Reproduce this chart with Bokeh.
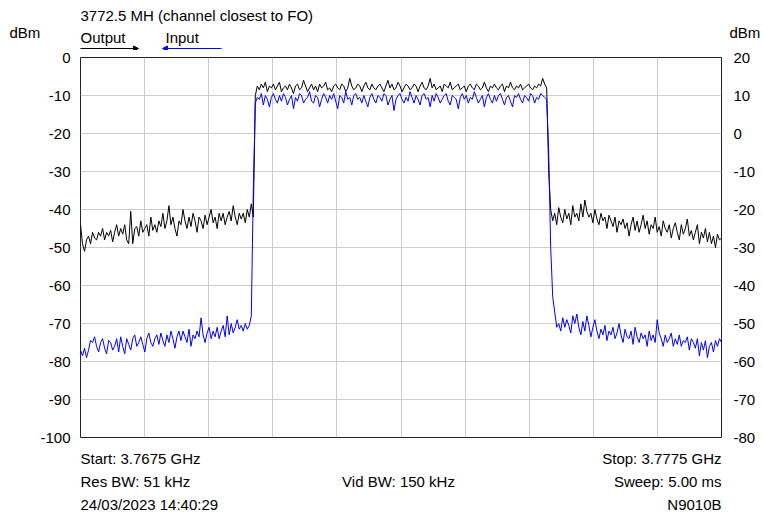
import numpy as np
from bokeh.plotting import figure
from bokeh.layouts import column
from bokeh.models import (Range1d, LinearAxis, FixedTicker, Arrow, NormalHead,
                          PrintfTickFormatter)
from bokeh.core.properties import value
from bokeh.embed import file_html
from bokeh.resources import INLINE

# ---------------- data ----------------
f_start_ghz = 3.7675
f_stop_ghz = 3.7775
n_points = 320

# Output trace (black), read on the right axis (dBm)
out_low = [-24, -29, -31, -28, -27, -29, -26, -27.5, -28, -26,
           -27, -25, -28, -26, -27, -25.5, -28.5, -26, -24, -27,
           -25, -26.5, -24, -28, -29, -20.5, -29, -25, -24.5, -27,
           -23, -26, -25, -24, -27, -22, -25.5, -24, -26, -23,
           -24.5, -21, -25, -23, -19, -24, -22, -25, -27, -23,
           -24, -20, -23, -25, -22, -24.5, -21, -23, -26, -22,
           -23, -25, -21.5, -24, -22, -20, -23.5, -22, -25, -21,
           -23, -21, -24, -22, -20.5, -23, -19, -22, -24, -21,
           -22.5, -21, -23.5, -20, -22, -18.5, -22]
out_band = [10, 12.5, 11.5, 13, 12, 13.5, 11, 12.5, 12, 13,
            11.5, 12.5, 13.5, 11, 12, 12.5, 11.5, 13, 12, 10.5,
            12.5, 13, 11.5, 12, 14, 12.5, 11, 12, 13, 11.5,
            12.5, 11, 13, 12, 12.5, 13.5, 11.5, 12, 11, 12.5,
            13, 12, 11.5, 13, 12.5, 11, 12, 14.5, 12.5, 11.5,
            12, 13, 12.5, 11, 12.5, 13.5, 12, 11.5, 13, 12,
            11.5, 12.5, 13, 12, 11, 12.5, 14, 12, 13, 11.5,
            12, 13.5, 12.5, 11, 12, 13, 12.5, 11.5, 12, 13,
            12.5, 11, 12.5, 13.5, 12, 11.5, 12.5, 14.5, 12, 13,
            11.5, 12, 12.5, 11, 13, 12.5, 12, 13.5, 11.5, 12,
            12.5, 13, 11.5, 12, 12.5, 11, 12.5, 13, 12, 11.5,
            13, 12.5, 11.5, 12, 13.5, 12, 11, 12.5, 12, 13,
            12, 11.5, 12.5, 13, 11, 12.5, 12, 13.5, 12, 11.5,
            12.5, 12, 13, 11.5, 12, 12.5, 13, 12, 11.5, 12.5,
            12, 13, 12.5, 14.5, 13, 12, -10]
out_high = [-20, -23, -21, -24, -19.5, -22, -23.5, -20, -22.5, -21,
            -24, -19, -22, -21, -23, -18.5, -22, -17.5, -20.5, -22,
            -21, -23.5, -20, -22.5, -24, -21, -23, -22, -25, -21.5,
            -23, -24.5, -22, -26, -23, -24, -22.5, -25, -23.5, -27,
            -24, -22, -25.5, -23, -26, -24, -21.5, -25, -23, -26.5,
            -24, -25, -22, -26, -24.5, -27, -23, -25, -26, -24,
            -27.5, -25, -23.5, -26, -28, -24, -26.5, -25, -22.5, -27,
            -25.5, -28, -26, -24, -29, -26, -27.5, -25, -28.5, -26,
            -29, -27, -30, -26.5, -28, -27.5]

# Input trace (blue), read on the left axis (dBm)
in_low = [-77, -78.5, -76.5, -79, -77, -74.5, -75, -73.5, -76, -77.5,
          -75, -74, -76.5, -78, -74.5, -75, -77, -76, -74, -77.5,
          -73.5, -76, -78, -74, -75.5, -77, -74, -73, -76, -75,
          -73.5, -75.5, -77.5, -74, -72.5, -75, -76, -74, -73, -75.5,
          -72.5, -74.5, -76, -73, -75, -72, -74, -76.5, -73.5, -72,
          -74.5, -72, -73.5, -75, -71.5, -76, -73, -74, -72, -73.5,
          -68.5, -73, -75, -72.5, -71, -74, -72, -73.5, -71, -74,
          -72, -70.5, -73.5, -68, -73, -70, -72.5, -71, -69, -71.5,
          -70.5, -72, -70, -71.5, -70.5, -68, -35]
in_band = [-12, -10.5, -11, -9.5, -12.5, -10, -11, -13, -10.5, -9.5,
           -11, -12, -10, -11.5, -9.5, -10.5, -12.5, -11, -10, -13.5,
           -10.5, -11.5, -9.5, -10, -12, -11, -10.5, -9, -11.5, -12,
           -10, -10.5, -13, -11, -9.5, -10.5, -12, -10, -11, -9.5,
           -11.5, -13.5, -10, -10.5, -12, -9, -11, -10.5, -12.5, -10,
           -9.5, -11, -10.5, -12, -10, -11.5, -13, -10.5, -9.5, -11,
           -12, -10, -10.5, -11.5, -9.5, -10, -12.5, -11, -10, -14,
           -11, -10, -9.5, -11, -12, -10.5, -11.5, -9, -10.5, -12,
           -10, -11, -12.5, -10, -9.5, -11, -10.5, -13, -10, -11.5,
           -9.5, -10.5, -12, -11, -10, -9.5, -11.5, -12.5, -10, -10.5,
           -11, -13.5, -10.5, -9.5, -11, -10, -12, -10.5, -11, -9,
           -10.5, -12, -11, -10, -13, -10.5, -9.5, -11, -12, -10,
           -11.5, -10, -9.5, -11, -12.5, -10.5, -10, -11.5, -13, -10,
           -10.5, -9.5, -11, -12, -10, -10.5, -11.5, -9.5, -10, -12,
           -10.5, -11, -9.5, -10, -10.5, -11]
in_high = [-25, -50, -63,
           -67, -71, -70, -72, -68.5, -71, -69, -70.5, -72.5, -68,
           -70, -67.5, -71, -73, -69.5, -72, -68, -70.5, -73.5, -71,
           -69, -72, -74, -71.5, -73, -70.5, -74.5, -72, -73, -71,
           -74, -72.5, -70, -73, -75, -71.5, -73.5, -74, -72, -75.5,
           -71, -73.5, -75, -72.5, -74, -73, -76, -72, -74.5, -73,
           -75, -69, -72.5, -74, -76, -73, -75, -74, -72.5, -76,
           -74, -75.5, -73, -76, -74.5, -75, -73.5, -77, -74, -75,
           -76.5, -74, -78.5, -75, -77, -74.5, -79, -76, -75, -77.5,
           -74.5, -76, -74, -75]

left_ticks = list(range(-100, 1, 10))
right_ticks = list(range(-80, 21, 10))

title_text = "3772.5 MH (channel closest to FO)"
unit_text = "dBm"
legend_texts = ["Output", "Input"]
info_left = ["Start: 3.7675 GHz", "Res BW: 51 kHz", "24/03/2023 14:40:29"]
info_mid = "Vid BW: 150 kHz"
info_right = ["Stop: 3.7775 GHz", "Sweep: 5.00 ms", "N9010B"]

# ---------------- layout ----------------
FONT = "Liberation Sans"
FS = "15px"
W = 763
HEAD_H = 50                      # header strip (page y 0..50)
FOOT_H = 68                      # footer strip (page y 445..513)
MAIN_H = 513 - HEAD_H - FOOT_H   # main chart (page y 50..445)
FL, FR, FT, FB = 80, 721, 57, 437   # plot frame edges in page pixels


def text_strip(height, top):
    """A figure with no axes whose data coordinates are page pixels (y downwards)."""
    s = figure(width=W, height=height, output_backend="svg", toolbar_location=None,
               x_range=Range1d(0, W), y_range=Range1d(top + height, top),
               x_axis_location=None, y_axis_location=None,
               min_border=0, min_border_left=0, min_border_right=0,
               min_border_top=0, min_border_bottom=0)
    s.frame_align = False
    s.outline_line_color = None
    s.xgrid.visible = False
    s.ygrid.visible = False
    s.background_fill_color = "white"
    s.border_fill_color = "white"
    return s


def put(fig, text, x, y, align="left"):
    fig.text(x=[x], y=[y], text=[text], text_font=value(FONT), text_font_size=value(FS),
             text_color="black", text_align=align, text_baseline="middle")


# header
head = text_strip(HEAD_H, 0)
put(head, title_text, 80, 15)
put(head, unit_text, 9, 32)
put(head, unit_text, 729, 32)
put(head, legend_texts[0], 80, 37)
put(head, legend_texts[1], 165, 37)
head.add_layout(Arrow(x_start=80, y_start=48, x_end=138, y_end=48, line_color="black",
                      line_width=1,
                      end=NormalHead(size=5, line_color="black", fill_color="black", line_width=1)))
head.add_layout(Arrow(x_start=221, y_start=48, x_end=162, y_end=48, line_color="#0000ff",
                      line_width=1,
                      end=NormalHead(size=5, line_color="#0000ff", fill_color="#0000ff",
                                     line_width=1)))

# main chart
freq = np.linspace(f_start_ghz, f_stop_ghz, n_points)
out_trace = np.array(out_low + out_band + out_high, dtype=float)
in_trace = np.array(in_low + in_band + in_high, dtype=float)

p = figure(width=W, height=MAIN_H, output_backend="svg", toolbar_location=None,
           x_range=Range1d(f_start_ghz, f_stop_ghz), y_range=Range1d(-100, 0),
           x_axis_location=None, y_axis_location="left",
           min_border_left=FL, min_border_right=W - FR, min_border_top=FT - HEAD_H,
           min_border_bottom=(HEAD_H + MAIN_H) - FB)
p.frame_align = False
p.extra_y_ranges = {"right": Range1d(-80, 20)}
p.background_fill_color = "white"
p.border_fill_color = "white"
p.outline_line_color = "#222222"
p.outline_line_width = 1

ax = p.yaxis[0]
ax.ticker = FixedTicker(ticks=left_ticks)
rax = LinearAxis(y_range_name="right", ticker=FixedTicker(ticks=right_ticks))
p.add_layout(rax, "right")
for a in (ax, rax):
    a.formatter = PrintfTickFormatter(format="%d")
    a.axis_line_color = None
    a.major_tick_line_color = None
    a.minor_tick_line_color = None
    a.major_tick_out = 0
    a.major_tick_in = 0
    a.major_label_text_font = FONT
    a.major_label_text_font_size = FS
    a.major_label_text_color = "black"
ax.major_label_standoff = 10
rax.major_label_standoff = 12

p.ygrid.ticker = FixedTicker(ticks=left_ticks)
p.ygrid.grid_line_color = "#cccccc"
p.ygrid.grid_line_width = 1
p.xgrid.ticker = FixedTicker(ticks=list(np.linspace(f_start_ghz, f_stop_ghz, 11)))
p.xgrid.grid_line_color = "#cccccc"
p.xgrid.grid_line_width = 1

p.line(freq, out_trace, line_color="black", line_width=1, y_range_name="right")
p.line(freq, in_trace, line_color="#0000ff", line_width=1)

# footer
foot_top = HEAD_H + MAIN_H
foot = text_strip(FOOT_H, foot_top)
rows = [458, 481, 504]
for t, y in zip(info_left, rows):
    put(foot, t, 80, y)
for t, y in zip(info_right, rows):
    put(foot, t, 721, y, align="right")
put(foot, info_mid, 398, rows[1], align="center")

layout = column(head, p, foot, spacing=0)
open("out.html", "w").write(file_html(layout, INLINE))
